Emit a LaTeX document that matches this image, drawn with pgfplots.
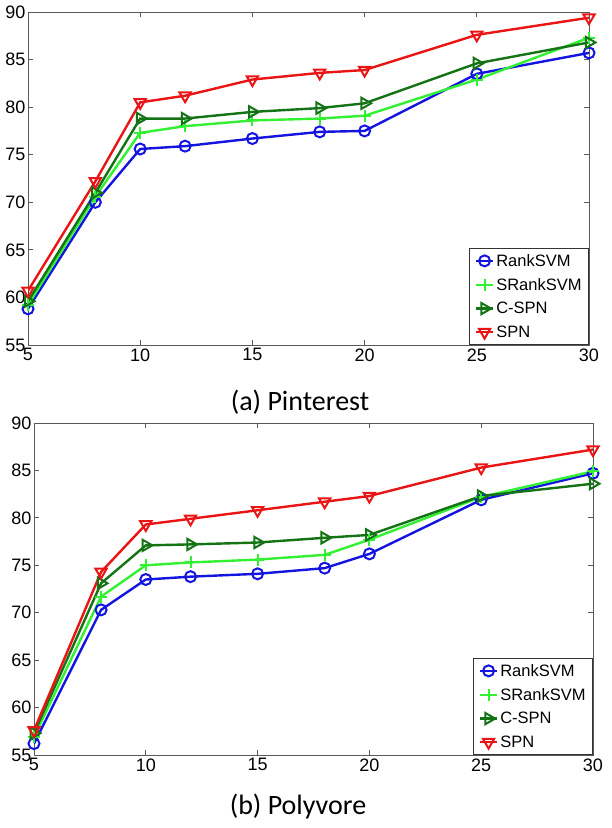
\documentclass[border=0pt]{standalone}
\usepackage{fontspec}
\setmainfont{Liberation Sans}
\newfontfamily\capfont{Carlito}
\usepackage{pgfplots}
\pgfplotsset{compat=1.18}
\definecolor{cblue}{RGB}{20,20,225}
\definecolor{clgreen}{RGB}{50,240,50}
\definecolor{cdgreen}{RGB}{20,115,20}
\definecolor{cred}{RGB}{235,20,20}

\pgfplotsset{myax/.style={
  scale only axis,
  xmin=5, xmax=30, ymin=55, ymax=90,
  xtick={5,10,15,20,25,30}, ytick={55,60,...,90},
  tick align=inside, major tick length=5pt,
  axis line style={black!65, line width=0.8pt},
  every tick/.style={black!65, line width=0.8pt},
  tick label style={font=\fontsize{18}{20}\selectfont},
  /pgf/number format/assume math mode=true,
  yticklabel style={xshift=1pt},
  legend style={at={(1,0)}, anchor=south east,
    font=\fontsize{16.5}{19}\selectfont, draw=black!80, line width=0.8pt,
    row sep=6.5pt, inner xsep=5pt, inner ysep=4pt, cells={anchor=west}},
  legend cell align=left,
  every axis plot/.append style={line width=2.4pt},
},
rank/.style={color=cblue, mark=o, mark size=5.5pt, mark options={solid, line width=2pt}},
srank/.style={color=clgreen, mark=+, mark size=6pt, mark options={solid, line width=2pt}},
cspn/.style={color=cdgreen, mark=triangle, mark size=6.5pt, mark options={solid, line width=2pt, rotate=-90}},
spn/.style={color=cred, mark=triangle, mark size=6.5pt, mark options={solid, line width=2pt, rotate=180}},
}

\begin{document}
\begin{tikzpicture}

% (a) Pinterest
\begin{axis}[myax, at={(28pt,483pt)}, anchor=south west, width=561pt, height=333pt]
\addplot[rank] coordinates {(5,58.8) (8,70.0) (10,75.6) (12,75.9) (15,76.7) (18,77.4) (20,77.5) (25,83.5) (30,85.7)};
\addplot[srank] coordinates {(5,59.2) (8,70.6) (10,77.3) (12,78.0) (15,78.6) (18,78.8) (20,79.1) (25,82.9) (30,87.3)};
\addplot[cspn] coordinates {(5,59.6) (8,71.0) (10,78.8) (12,78.8) (15,79.5) (18,79.9) (20,80.4) (25,84.6) (30,86.8)};
\addplot[spn] coordinates {(5,60.7) (8,72.2) (10,80.5) (12,81.2) (15,82.9) (18,83.6) (20,83.9) (25,87.6) (30,89.4)};
\legend{RankSVM,SRankSVM,C-SPN,SPN}
\end{axis}
\node[anchor=base, font=\capfont\fontsize{28}{30}\selectfont] at (300pt,417pt) {(a) Pinterest};

% (b) Polyvore
\begin{axis}[myax, at={(34pt,73pt)}, anchor=south west, width=559pt, height=332pt]
\addplot[rank] coordinates {(5,56.2) (8,70.3) (10,73.5) (12,73.8) (15,74.1) (18,74.7) (20,76.2) (25,81.9) (30,84.7)};
\addplot[srank] coordinates {(5,56.9) (8,71.7) (10,75.0) (12,75.3) (15,75.6) (18,76.1) (20,77.7) (25,82.2) (30,84.9)};
\addplot[cspn] coordinates {(5,57.3) (8,73.1) (10,77.1) (12,77.2) (15,77.4) (18,77.9) (20,78.2) (25,82.3) (30,83.6)};
\addplot[spn] coordinates {(5,57.6) (8,74.3) (10,79.3) (12,79.9) (15,80.8) (18,81.7) (20,82.3) (25,85.3) (30,87.2)};
\legend{RankSVM,SRankSVM,C-SPN,SPN}
\end{axis}
\node[anchor=base, font=\capfont\fontsize{28}{30}\selectfont] at (298pt,13pt) {(b) Polyvore};

\pgfresetboundingbox
\path[use as bounding box] (0pt,0pt) rectangle (612pt,828pt);
\end{tikzpicture}
\end{document}
